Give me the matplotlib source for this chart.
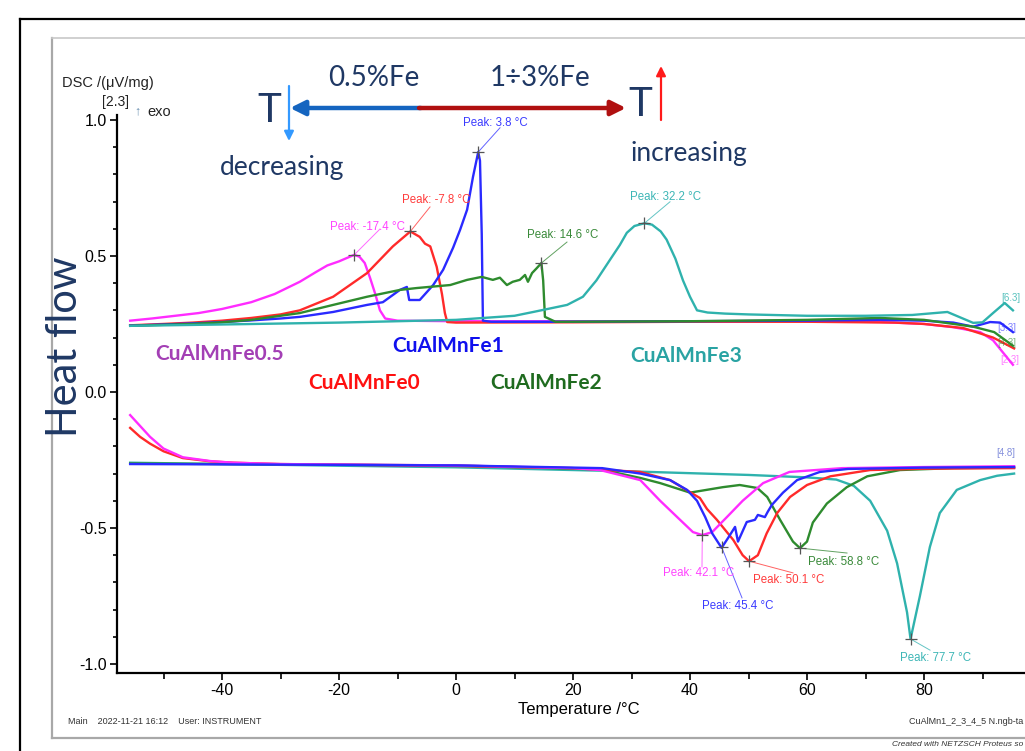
import matplotlib
matplotlib.use("Agg")
import matplotlib.pyplot as plt
from matplotlib.lines import Line2D

plt.rcParams['axes.unicode_minus'] = False
ARIAL = ['Liberation Sans', 'DejaVu Sans']
CALIBRI = ['Lato', 'DejaVu Sans']

# ---------------- data ----------------
# cooling (exothermic, upper set)
cool_fe0_T = [-55.7, -50, -45, -40, -35, -30, -26.7, -21, -15.2, -10.8, -7.8, -6.2, -5.3, -4.4,
              -3.3, -2.4, -1.9, -1.5, 0, 20, 40, 60, 75, 80, 86.7, 91.8, 95.4]
cool_fe0_v = [0.245, 0.25, 0.255, 0.262, 0.272, 0.285, 0.30, 0.35, 0.437, 0.535, 0.59, 0.57, 0.545, 0.535,
              0.46, 0.36, 0.29, 0.257, 0.255, 0.256, 0.258, 0.258, 0.255, 0.25, 0.235, 0.2, 0.16]

cool_fe05_T = [-55.7, -52, -48, -44, -40, -35, -31, -26.7, -24, -22, -20, -17.4, -16.5, -15.6, -14.7,
               -13.8, -13, -12.1, -10, 0, 20, 40, 60, 72.5, 80, 85, 89.6, 91.8, 95.2]
cool_fe05_v = [0.262, 0.27, 0.28, 0.29, 0.305, 0.33, 0.36, 0.405, 0.44, 0.465, 0.48, 0.504, 0.497, 0.474, 0.42,
               0.36, 0.30, 0.27, 0.262, 0.26, 0.26, 0.26, 0.26, 0.257, 0.25, 0.238, 0.22, 0.19, 0.10]

cool_fe1_T = [-55.7, -50, -45, -40, -35, -30, -26.7, -21, -15.2, -12.5, -9.6, -8.4, -8.0, -6.2, -3.9,
              -2.2, -0.5, 0.7, 1.9, 2.9, 3.8, 4.1, 4.4, 4.6, 6, 20, 40, 60, 72.5, 80, 85, 88.4,
              91.3, 93, 95.2]
cool_fe1_v = [0.244, 0.248, 0.252, 0.257, 0.263, 0.27, 0.276, 0.294, 0.32, 0.33, 0.375, 0.386, 0.338, 0.338, 0.393,
              0.449, 0.53, 0.596, 0.67, 0.79, 0.882, 0.85, 0.58, 0.262, 0.258, 0.258, 0.26, 0.262, 0.265, 0.262, 0.255, 0.24,
              0.257, 0.255, 0.22]

cool_fe2_T = [-55.7, -45, -40, -35, -30, -26.7, -21, -15.2, -9.6, -6.7, -1, 1.9, 4.4, 6.3, 7.5, 8.7,
              9.7, 10.9, 11.8, 12.3, 13, 13.8, 14.6, 14.9, 15.2, 17, 40, 60, 72.5, 80, 88.4, 92, 95.2]
cool_fe2_v = [0.243, 0.25, 0.256, 0.265, 0.28, 0.29, 0.32, 0.35, 0.375, 0.382, 0.393, 0.412, 0.423, 0.412, 0.42, 0.393,
              0.405, 0.412, 0.43, 0.405, 0.437, 0.455, 0.474, 0.41, 0.276, 0.258, 0.26, 0.265, 0.272, 0.265, 0.24, 0.22, 0.17]

cool_fe3_T = [-55.7, -40, -20, 0, 10, 13.2, 19, 21.7, 24, 26.3, 28, 29.2, 30.5, 32.2, 33.5, 35,
              36, 37.5, 38.8, 40, 41.2, 43, 46, 50, 60, 70, 78, 84, 88.4, 90, 91.8, 93.8, 95.2]
cool_fe3_v = [0.243, 0.248, 0.255, 0.265, 0.28, 0.294, 0.32, 0.35, 0.41, 0.485, 0.54, 0.585, 0.61, 0.62, 0.615, 0.59,
              0.56, 0.49, 0.41, 0.35, 0.30, 0.292, 0.288, 0.285, 0.28, 0.28, 0.283, 0.294, 0.254, 0.256, 0.29, 0.327, 0.30]

# heating (endothermic, lower set)
heat_fe0_T = [-55.7, -54, -52.3, -50, -46.7, -42, -38.1, -30, 0, 20, 31.5, 36.6, 41.7, 42.9, 44.6, 47.4, 49, 50.1,
              51.6, 53.1, 54.9, 57.1, 60, 64, 70.8, 80, 95.4]
heat_fe0_v = [-0.132, -0.165, -0.19, -0.218, -0.243, -0.255, -0.26, -0.265, -0.272, -0.28, -0.294, -0.324, -0.39,
              -0.43, -0.47, -0.544, -0.6, -0.622, -0.6, -0.52, -0.445, -0.386, -0.342, -0.31, -0.287, -0.282, -0.28]

heat_fe05_T = [-55.7, -54, -52.3, -50, -46.7, -42, -38.1, -30, 0, 20, 24.6, 28, 31.5, 34.9, 38.3, 40.5, 42.1, 43.8,
               46.3, 49, 52.5, 57, 66, 80, 95.4]
heat_fe05_v = [-0.085, -0.125, -0.165, -0.208, -0.24, -0.254, -0.26, -0.265, -0.27, -0.28, -0.287, -0.305, -0.324,
               -0.40, -0.47, -0.515, -0.526, -0.515, -0.46, -0.40, -0.335, -0.294, -0.28, -0.276, -0.273]

heat_fe1_T = [-55.7, -30, 0, 25, 31.5, 36.6, 39.5, 41.2, 42.6, 43.8, 45.4, 46.5, 47.7, 48.2, 49.7,
              51.1, 51.6, 52.8, 53.3, 54, 55.9, 58.3, 62.2, 67, 80, 95.4]
heat_fe1_v = [-0.265, -0.267, -0.27, -0.28, -0.3, -0.324, -0.36, -0.40, -0.46, -0.52, -0.573, -0.537, -0.496, -0.55,
              -0.478, -0.47, -0.452, -0.46, -0.44, -0.415, -0.37, -0.324, -0.294, -0.283, -0.278, -0.276]

heat_fe2_T = [-55.7, -30, 0, 24.6, 28, 31.5, 34.9, 40, 45.6, 48.5, 51.5, 53.2, 55.4, 57.6, 58.8,
              60, 61, 63.4, 66.8, 70.3, 75.9, 85, 95.4]
heat_fe2_v = [-0.263, -0.266, -0.27, -0.285, -0.3, -0.316, -0.335, -0.37, -0.35, -0.342, -0.353, -0.386, -0.47,
              -0.55, -0.574, -0.55, -0.48, -0.41, -0.35, -0.31, -0.287, -0.28, -0.278]

heat_fe3_T = [-55.7, -30, 0, 30, 50, 60, 65, 68, 70.8, 73.7, 75.4, 77.1, 77.7, 79.3, 81, 82.7,
              85.6, 89.6, 92.5, 95.4]
heat_fe3_v = [-0.26, -0.268, -0.277, -0.292, -0.305, -0.314, -0.322, -0.345, -0.40, -0.51, -0.63, -0.81, -0.908,
              -0.75, -0.57, -0.445, -0.36, -0.324, -0.308, -0.30]

# peak annotations: (temperature, value)
cool_peaks_T = [-17.4, -7.8, 3.8, 14.6, 32.2]
cool_peaks_v = [0.504, 0.59, 0.882, 0.474, 0.62]
heat_peaks_T = [42.1, 45.4, 50.1, 58.8, 77.7]
heat_peaks_v = [-0.526, -0.57, -0.622, -0.574, -0.908]

sample_names = ['CuAlMnFe0.5', 'CuAlMnFe0', 'CuAlMnFe1', 'CuAlMnFe2', 'CuAlMnFe3']

x_ticks = [-40, -20, 0, 20, 40, 60, 80]
y_ticks = [-1.0, -0.5, 0.0, 0.5, 1.0]

# ---------------- styles ----------------
C_MAG = '#ff2cff'
C_RED = '#ff2a2a'
C_BLU = '#2a2aff'
C_GRN = '#2e8b2e'
C_TEA = '#2fb2ad'
NAVY = '#1f3864'

W, H = 1025, 751
fig = plt.figure(figsize=(W / 100, H / 100), dpi=100)


def fx(x):
    return x / W


def fy(y):
    return 1 - y / H


# frames
fig.add_artist(Line2D([fx(20), fx(20)], [fy(19), 0], color='black', lw=1.6, transform=fig.transFigure))
fig.add_artist(Line2D([fx(20), 1], [fy(19), fy(19)], color='black', lw=1.6, transform=fig.transFigure))
fig.add_artist(Line2D([fx(52), fx(52)], [fy(38), fy(738)], color='#a8a8a8', lw=1.6, transform=fig.transFigure))
fig.add_artist(Line2D([fx(52), 1], [fy(38), fy(38)], color='#c8c8c8', lw=1.2, transform=fig.transFigure))
fig.add_artist(Line2D([fx(52), 1], [fy(738), fy(738)], color='#a8a8a8', lw=1.6, transform=fig.transFigure))

x0, x1 = -58.0, 100.0
y0, y1 = -1.033, 1.018
ax = fig.add_axes([fx(116.7), fy(673), fx(1041) - fx(116.7), fy(115) - fy(673)])
ax.set_xlim(x0, x1)
ax.set_ylim(y0, y1)
ax.patch.set_alpha(0)
for s in ['top', 'right']:
    ax.spines[s].set_visible(False)
for s in ['left', 'bottom']:
    ax.spines[s].set_linewidth(1.6)
    ax.spines[s].set_color('black')

ax.set_xticks(x_ticks)
ax.set_xticklabels([f'{t:d}' for t in x_ticks], fontsize=11.5, family=ARIAL)
ax.set_xticks(list(range(-50, 100, 10)), minor=True)
ax.set_yticks(y_ticks)
ax.set_yticklabels([f'{t:.1f}' for t in y_ticks], fontsize=11.5, family=ARIAL)
ax.set_yticks([i / 10 for i in range(-10, 11)], minor=True)
ax.tick_params(which='major', direction='out', length=5, width=1.2, pad=2)
ax.tick_params(which='minor', direction='out', length=4, width=1.2)
ax.tick_params(axis='y', which='minor', length=3)
ax.set_xlabel('Temperature /°C', fontsize=12, family=ARIAL, labelpad=3)

lw = 1.7
series = [
    (cool_fe05_T, cool_fe05_v, C_MAG), (cool_fe0_T, cool_fe0_v, C_RED),
    (cool_fe1_T, cool_fe1_v, C_BLU), (cool_fe2_T, cool_fe2_v, C_GRN),
    (cool_fe3_T, cool_fe3_v, C_TEA),
    (heat_fe3_T, heat_fe3_v, C_TEA), (heat_fe2_T, heat_fe2_v, C_GRN),
    (heat_fe0_T, heat_fe0_v, C_RED), (heat_fe05_T, heat_fe05_v, C_MAG),
    (heat_fe1_T, heat_fe1_v, C_BLU),
]
for T, v, c in series:
    ax.plot(T, v, color=c, lw=lw, solid_joinstyle='round', clip_on=False)

# peak markers + labels
lab_cols = ['#ff44ff', '#ff3b3b', '#3b3bff', '#3a8a3a', '#3db6b6']
cool_lab_pos = [(-21.54, 0.607), (-9.23, 0.706), (1.2, 0.989), (12.14, 0.577), (29.74, 0.717)]
cool_line_end = [(-12.99, 0.599), (-4.44, 0.680), (7.52, 0.971), (18.97, 0.551), (36.58, 0.699)]
heat_cols = ['#ff44ff', '#3b3bff', '#ff3b3b', '#3a8a3a', '#3db6b6']
heat_lab_pos = [(35.38, -0.665), (42.05, -0.787), (50.77, -0.691), (60.17, -0.625), (75.9, -0.978)]
heat_line_end = [(42.05, -0.643), (48.89, -0.757), (57.6, -0.665), (66.84, -0.592), (81.03, -0.949)]

for (pt, pv, c, lp, le) in zip(cool_peaks_T + heat_peaks_T, cool_peaks_v + heat_peaks_v,
                               lab_cols + heat_cols, cool_lab_pos + heat_lab_pos,
                               cool_line_end + heat_line_end):
    ax.plot([pt, le[0]], [pv, le[1]], color=c, lw=0.7, alpha=0.8)
    ax.plot([pt], [pv], marker='+', color='#555555', ms=9, mew=0.9)
    ax.text(lp[0], lp[1], f'Peak: {pt:.1f} °C', color=c, fontsize=8.3, family=ARIAL,
            ha='left', va='center')

# small right-end range labels
ax.text(93.2, 0.345, '[6.3]', color=C_TEA, fontsize=7, family=ARIAL, ha='left', va='center', alpha=0.8)
ax.text(92.5, 0.235, '[3.3]', color=C_BLU, fontsize=7, family=ARIAL, ha='left', va='center', alpha=0.6)
ax.text(92.5, 0.18, '[4.3]', color=C_GRN, fontsize=7, family=ARIAL, ha='left', va='center', alpha=0.6)
ax.text(93.0, 0.118, '[2.3]', color=C_MAG, fontsize=7, family=ARIAL, ha='left', va='center', alpha=0.6)
ax.text(92.3, -0.225, '[4.8]', color='#5a6ad0', fontsize=7, family=ARIAL, ha='left', va='center', alpha=0.75)

# axis header texts
fig.text(fx(62), fy(83), 'DSC /(μV/mg)', fontsize=10.5, family=ARIAL, va='center', ha='left', color='#222222')
fig.text(fx(102), fy(102), '[2.3]', fontsize=10, family=ARIAL, va='center', ha='left', color='#222222')
fig.text(fx(134), fy(111), '↑', fontsize=9, family=ARIAL, va='center', ha='left', color='#6a8fb0')
fig.text(fx(147), fy(112), 'exo', fontsize=10.5, family=ARIAL, va='center', ha='left', color='#222222')

# Big annotation texts
fig.text(fx(65), fy(347), 'Heat flow', rotation=90, fontsize=30, family=CALIBRI, color=NAVY,
         ha='center', va='center')
name_pos = [(155, 354), (308, 383), (392, 346), (490, 383), (630, 356)]
name_cols = ['#a33fb5', '#ff1010', '#1010ee', '#1f6b1f', '#2aa3a3']
for n, (px_, py_), c in zip(sample_names, name_pos, name_cols):
    fig.text(fx(px_), fy(py_), n, fontsize=15, family=CALIBRI, weight='bold', color=c,
             ha='left', va='center')

fig.text(fx(328), fy(78), '0.5%Fe', fontsize=20, family=CALIBRI, color=NAVY, ha='left', va='center')
fig.text(fx(490), fy(78), '1÷3%Fe', fontsize=20, family=CALIBRI, color=NAVY, ha='left', va='center')
fig.text(fx(257), fy(110), 'T', fontsize=29, family=CALIBRI, color=NAVY, ha='left', va='center')
fig.text(fx(628), fy(104), 'T', fontsize=29, family=CALIBRI, color=NAVY, ha='left', va='center')
fig.text(fx(220), fy(167), 'decreasing', fontsize=19, family=CALIBRI, color=NAVY, ha='left', va='center')
fig.text(fx(631), fy(153), 'increasing', fontsize=19, family=CALIBRI, color=NAVY, ha='left', va='center')

# arrows (figure pixels, y measured from bottom)
def arr(xa, ya, xb, yb, color, lw_, ms):
    ax.annotate('', xy=(xb, H - yb), xytext=(xa, H - ya), xycoords='figure pixels',
                textcoords='figure pixels', annotation_clip=False,
                arrowprops=dict(arrowstyle='-|>', color=color, lw=lw_, mutation_scale=ms,
                                shrinkA=0, shrinkB=0))

arr(421, 108, 290, 108, '#1565c0', 3.2, 22)
arr(419, 108, 626, 108, '#b01010', 3.2, 22)
arr(289, 86, 289, 141, '#3399ff', 1.6, 14)
arr(661, 120, 661, 66, '#ff1a1a', 1.6, 14)

# footer texts (cut at the right edge as in the reference)
fig.text(fx(68), fy(722), 'Main    2022-11-21 16:12    User: INSTRUMENT', fontsize=6.5, family=ARIAL,
         color='#333333', ha='left', va='center')
fig.text(fx(1023), fy(722), 'CuAlMn1_2_3_4_5 N.ngb-ta', fontsize=6.5, family=ARIAL,
         color='#333333', ha='right', va='center')
fig.text(fx(1023), fy(744), 'Created with NETZSCH Proteus so', fontsize=6, family=ARIAL,
         color='#333333', ha='right', va='center', style='italic')

fig.savefig('out.png', dpi=100)
